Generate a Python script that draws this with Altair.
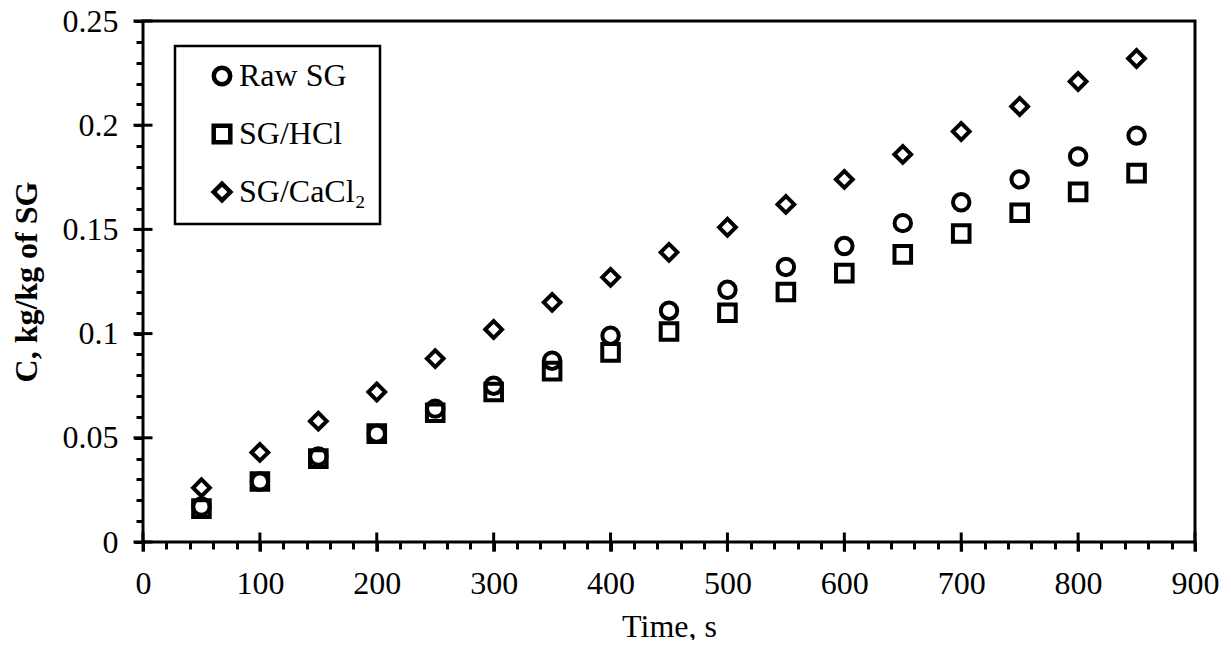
import altair as alt
import pandas as pd

# ---- data ----
time_s = [50, 100, 150, 200, 250, 300, 350, 400, 450, 500, 550, 600, 650, 700, 750, 800, 850]
raw_sg = [0.017, 0.029, 0.041, 0.052, 0.064, 0.075, 0.087, 0.099, 0.111, 0.121,
          0.132, 0.142, 0.153, 0.163, 0.174, 0.185, 0.195]
sg_hcl = [0.016, 0.029, 0.040, 0.052, 0.062, 0.072, 0.082, 0.091, 0.101, 0.110,
          0.120, 0.129, 0.138, 0.148, 0.158, 0.168, 0.177]
sg_cacl2 = [0.026, 0.043, 0.058, 0.072, 0.088, 0.102, 0.115, 0.127, 0.139, 0.151,
            0.162, 0.174, 0.186, 0.197, 0.209, 0.221, 0.232]

series_names = ["Raw SG", "SG/HCl", "SG/CaCl\u2082"]
series_shapes = ["circle", "square", "diamond"]
series_sizes = [270, 280, 400]

x_major = [0, 100, 200, 300, 400, 500, 600, 700, 800, 900]
x_minor = list(range(0, 901, 20))
y_major = [0, 0.05, 0.1, 0.15, 0.2, 0.25]
y_minor = [round(i * 0.01, 2) for i in range(0, 26)]

rows = []
for name, vals in zip(series_names, [raw_sg, sg_hcl, sg_cacl2]):
    for t, v in zip(time_s, vals):
        rows.append({"Time": t, "C": v, "Series": name})
df = pd.DataFrame(rows)
df_xmaj = pd.DataFrame({"v": x_major})
df_ymaj = pd.DataFrame({"v": y_major})

FONT = "Liberation Serif"
FS = 32
W, H = 1052, 521

xscale = alt.Scale(domain=[0, 900], nice=False, zero=False)
yscale = alt.Scale(domain=[0, 0.25], nice=False, zero=False)

legend = alt.Legend(
    title=None,
    orient="none",
    legendX=32,
    legendY=25,
    padding=14,
    strokeColor="black",
    fillColor="white",
    labelFont=FONT,
    labelFontSize=FS,
    labelColor="black",
    labelOffset=1,
    symbolOffset=17,
    symbolStrokeColor="black",
    symbolStrokeWidth=4.5,
    rowPadding=22,
    labelLimit=400,
)

shape_enc = alt.Shape("Series:N", scale=alt.Scale(domain=series_names, range=series_shapes), legend=legend)
size_enc = alt.Size("Series:N", scale=alt.Scale(domain=series_names, range=series_sizes), legend=legend)

base = alt.Chart(df)

major = base.mark_point(filled=False, color="black", strokeWidth=4, opacity=1).encode(
    x=alt.X("Time:Q", scale=xscale, axis=alt.Axis(
        orient="bottom", values=x_major, tickSize=9, tickWidth=3, tickColor="black",
        domain=False, grid=False, labelFont=FONT, labelFontSize=FS, labelColor="black",
        labelPadding=17, labelFlush=False, labelOverlap=False,
        title="Time, s", titleFont=FONT, titleFontSize=FS, titleFontWeight="normal",
        titleColor="black", titlePadding=12)),
    y=alt.Y("C:Q", scale=yscale, axis=alt.Axis(
        orient="left", values=y_major, format=".2~f", tickSize=9, tickWidth=3,
        tickColor="black", domain=False, grid=False, labelFont=FONT, labelFontSize=FS,
        labelColor="black", labelPadding=16, labelFlush=False, labelOverlap=False,
        title="C, kg/kg of SG", titleFont=FONT, titleFontSize=FS, titleFontWeight="bold",
        titleColor="black", titlePadding=19)),
    shape=shape_enc,
    size=size_enc,
)

minor = base.mark_point(opacity=0).encode(
    x=alt.X("Time:Q", scale=xscale, axis=alt.Axis(
        orient="bottom", values=x_minor, tickSize=7, tickWidth=3, tickColor="black",
        domain=False, grid=False, labels=False, title="")),
    y=alt.Y("C:Q", scale=yscale, axis=alt.Axis(
        orient="left", values=y_minor, tickSize=7, tickWidth=3, tickColor="black",
        domain=False, grid=False, labels=False, title="")),
)

# major ticks crossing the axis lines
xcross = alt.Chart(df_xmaj).mark_tick(orient="vertical", size=19, thickness=3, color="black", opacity=1).encode(
    x=alt.X("v:Q", scale=xscale, axis=None),
    y=alt.value(H),
)
ycross = alt.Chart(df_ymaj).mark_tick(orient="horizontal", size=19, thickness=3, color="black", opacity=1).encode(
    y=alt.Y("v:Q", scale=yscale, axis=None),
    x=alt.value(0),
)

chart = (
    alt.layer(minor, xcross, ycross, major)
    .resolve_axis(x="independent", y="independent")
    .resolve_scale(x="shared", y="shared")
    .properties(
        width=W,
        height=H,
        autosize=alt.AutoSizeParams(type="none"),
        padding={"left": 135, "top": 13, "right": 27, "bottom": 98},
        background="white",
    )
    .configure_view(stroke="black", strokeWidth=3)
    .configure_legend(strokeWidth=2.5)
)

chart.save("out.html", embed_options={"renderer": "svg", "actions": False})
